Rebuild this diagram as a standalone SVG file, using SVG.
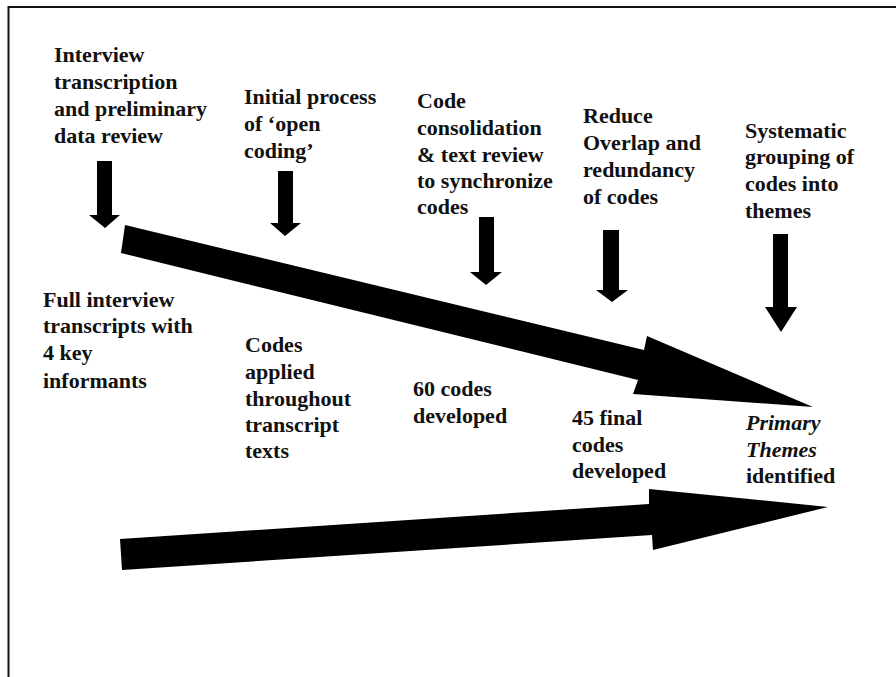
<svg xmlns="http://www.w3.org/2000/svg" width="896" height="677" viewBox="0 0 896 677">
<style>
.t text{font-weight:bold;font-size:22px;fill:#111}
.it{font-style:italic}
.arr{fill:#000}
.frame{stroke:#111;stroke-width:2;fill:none}
</style>
<rect width="896" height="677" fill="#fff"/>
<g id="frame"><path class="frame" d="M8.5,677 V7 H896"/></g>
<g class="t" font-family="Liberation Serif, Times New Roman, serif">
<g id="step1"><text x="54" y="62">Interview</text><text x="54" y="89">transcription</text><text x="54" y="116">and preliminary</text><text x="54" y="143">data review</text></g>
<g id="step2"><text x="244" y="104">Initial process</text><text x="244" y="131">of ‘open</text><text x="244" y="158">coding’</text></g>
<g id="step3"><text x="417" y="108">Code</text><text x="417" y="135">consolidation</text><text x="417" y="162">&amp; text review</text><text x="417" y="188">to synchronize</text><text x="417" y="214">codes</text></g>
<g id="step4"><text x="583" y="123">Reduce</text><text x="583" y="150">Overlap and</text><text x="583" y="177">redundancy</text><text x="583" y="204">of codes</text></g>
<g id="step5"><text x="745" y="138">Systematic</text><text x="745" y="164">grouping of</text><text x="745" y="191">codes into</text><text x="745" y="218">themes</text></g>
<g id="out1"><text x="43" y="307">Full interview</text><text x="43" y="333">transcripts with</text><text x="43" y="360">4 key</text><text x="43" y="388">informants</text></g>
<g id="out2"><text x="245" y="352">Codes</text><text x="245" y="379">applied</text><text x="245" y="406">throughout</text><text x="245" y="432">transcript</text><text x="245" y="458">texts</text></g>
<g id="out3"><text x="413" y="396">60 codes</text><text x="413" y="423">developed</text></g>
<g id="out4"><text x="572" y="425">45 final</text><text x="572" y="452">codes</text><text x="572" y="478">developed</text></g>
<g id="out5"><text class="it" x="746" y="430">Primary</text><text class="it" x="746" y="457">Themes</text><text x="746" y="483">identified</text></g>
</g>
<g id="connectors">
<polygon class="arr" points="97,161 112,161 112,215 120,215 105,228 89,215 97,215"/>
<polygon class="arr" points="278,171 293,171 293,223 301,223 285,236 270,223 278,223"/>
<polygon class="arr" points="479,217 494,217 494,272 502,272 486,285 470,272 479,272"/>
<polygon class="arr" points="603,230 619,230 619,290 628,290 612,302 596,290 603,290"/>
<polygon class="arr" points="773,234 788,234 788,307 797,307 781,332 765,307 773,307"/>
<polygon class="arr" points="125,225 644,350 647,336 813,407 633,394 638,380 121,253"/>
<polygon class="arr" points="120,539 649,504 649,489 828,507 653,550 652,535 122,570"/>
</g>
</svg>
